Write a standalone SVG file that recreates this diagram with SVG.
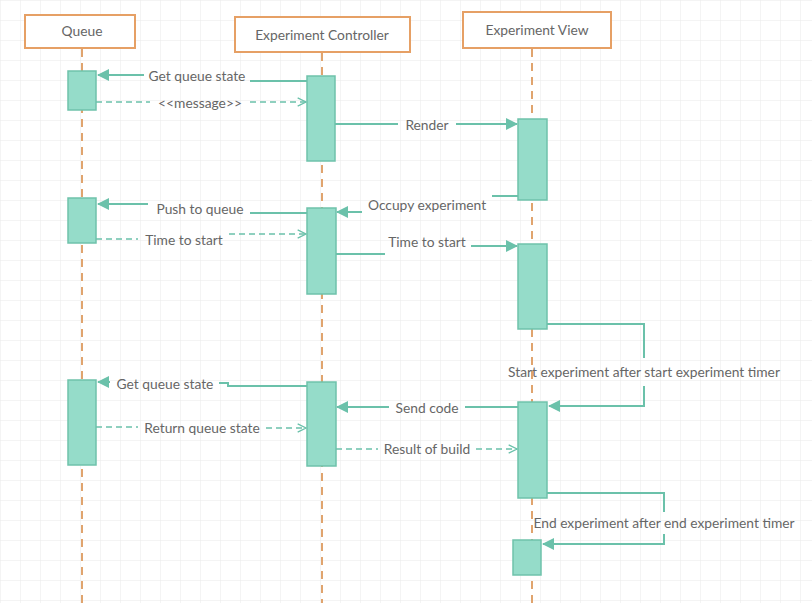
<svg xmlns="http://www.w3.org/2000/svg" width="812" height="603" viewBox="0 0 812 603">
<defs>
<pattern id="grid" width="20" height="20" patternUnits="userSpaceOnUse">
<path d="M20 0H0V20" fill="none" stroke="#e9e9e9" stroke-width="1"/>
</pattern>
<marker id="fill" viewBox="0 0 12 12" refX="11" refY="6" markerWidth="12" markerHeight="12" markerUnits="userSpaceOnUse" orient="auto">
<path d="M0,0 L12,6 L0,12 Z" fill="#6bc1aa"/>
</marker>
<marker id="open" viewBox="0 0 12 12" refX="11" refY="6" markerWidth="10" markerHeight="10" markerUnits="userSpaceOnUse" orient="auto">
<path d="M1,1 L11,6 L1,11" fill="none" stroke="#6bc1aa" stroke-width="1.5"/>
</marker>
</defs>
<style>
.hdr{fill:#fff;stroke:#e6a065;stroke-width:2}
.life{stroke:#e0a46e;stroke-width:2;stroke-dasharray:8 6;fill:none}
.act{fill:#95dcc9;stroke:#6fc2ab;stroke-width:1.5}
.msg{fill:none;stroke:#6bc1aa;stroke-width:2}
.dash{fill:none;stroke:#6bc1aa;stroke-width:1.5;stroke-dasharray:6 4}
text{font-family:Lato,"Open Sans","Liberation Sans",sans-serif;font-size:13.8px;fill:#666}
.t{text-anchor:middle;dominant-baseline:central}
</style>
<rect width="812" height="603" fill="#fff"/>
<rect width="812" height="603" fill="url(#grid)"/>

<g id="lifelines">
<line class="life" x1="82" y1="49" x2="82" y2="603"/>
<line class="life" x1="322" y1="53" x2="322" y2="603"/>
<line class="life" x1="532" y1="49" x2="532" y2="603"/>
</g>

<g id="queue"><rect class="hdr" x="25" y="15" width="110" height="33"/><text class="t" x="82" y="30">Queue</text></g>
<g id="controller"><rect class="hdr" x="235" y="17" width="175" height="35"/><text class="t" x="322" y="34">Experiment Controller</text></g>
<g id="view"><rect class="hdr" x="463" y="12" width="148" height="36"/><text class="t" x="537" y="29">Experiment View</text></g>

<g id="activations">
<rect class="act" x="68" y="71" width="28" height="39"/>
<rect class="act" x="307" y="76" width="28" height="85"/>
<rect class="act" x="518" y="119" width="29" height="81"/>
<rect class="act" x="68" y="198" width="28" height="45"/>
<rect class="act" x="307" y="208" width="29" height="86"/>
<rect class="act" x="518" y="244" width="29" height="85"/>
<rect class="act" x="68" y="380" width="28" height="85"/>
<rect class="act" x="307" y="382" width="29" height="84"/>
<rect class="act" x="518" y="402" width="29" height="96"/>
<rect class="act" x="513" y="540" width="28" height="35"/>
</g>

<g id="connectors">
<path class="msg" d="M307,81 H250"/><path class="msg" d="M144,75 H98" marker-end="url(#fill)"/>
<path class="dash" d="M96,102 H150"/><path class="dash" d="M250,102 H306" marker-end="url(#open)"/>
<path class="msg" d="M335,124 H398"/><path class="msg" d="M456,124 H517" marker-end="url(#fill)"/>
<path class="msg" d="M518,196 H492"/><path class="msg" d="M362,212 H337" marker-end="url(#fill)"/>
<path class="msg" d="M307,213 H250"/><path class="msg" d="M148,204 H98" marker-end="url(#fill)"/>
<path class="dash" d="M96,239 H138"/><path class="dash" d="M229,234 H306" marker-end="url(#open)"/>
<path class="msg" d="M336,254 H385"/><path class="msg" d="M471,246 H517" marker-end="url(#fill)"/>
<path class="msg" d="M547,324 H644 V358"/><path class="msg" d="M644,386 V406 H549" marker-end="url(#fill)"/>
<path class="msg" d="M307,386 H228 V383 H219"/><path class="msg" d="M110,382 H98" marker-end="url(#fill)"/>
<path class="msg" d="M518,407 H465"/><path class="msg" d="M389,407 H337" marker-end="url(#fill)"/>
<path class="dash" d="M96,427 H138"/><path class="dash" d="M266,428 H306" marker-end="url(#open)"/>
<path class="dash" d="M336,449 H378"/><path class="dash" d="M476,449 H517" marker-end="url(#open)"/>
<path class="msg" d="M547,493 H664 V512"/><path class="msg" d="M664,534 V544 H543" marker-end="url(#fill)"/>
</g>

<g id="labels">
<text class="t" x="197" y="75">Get queue state</text>
<text class="t" x="200" y="102">&lt;&lt;message&gt;&gt;</text>
<text class="t" x="427" y="124">Render</text>
<text class="t" x="427" y="204">Occupy experiment</text>
<text class="t" x="200" y="208">Push to queue</text>
<text class="t" x="184" y="239">Time to start</text>
<text class="t" x="427" y="241">Time to start</text>
<text class="t" x="644" y="371">Start experiment after start experiment timer</text>
<text class="t" x="165" y="383">Get queue state</text>
<text class="t" x="427" y="407">Send code</text>
<text class="t" x="202" y="427">Return queue state</text>
<text class="t" x="427" y="448">Result of build</text>
<text class="t" x="664" y="522">End experiment after end experiment timer</text>
</g>
</svg>
